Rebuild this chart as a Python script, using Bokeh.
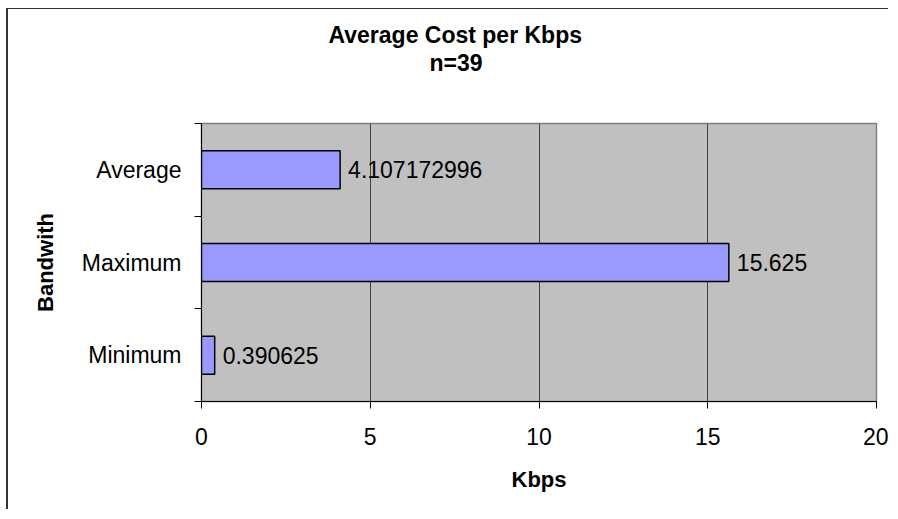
from bokeh.plotting import figure
from bokeh.models import FixedTicker, Title, ColumnDataSource, LabelSet
from bokeh.core.properties import value
from bokeh.embed import file_html
from bokeh.resources import INLINE

categories = ["Minimum", "Maximum", "Average"]
costs = [0.390625, 15.625, 4.107172996]
value_labels = ["0.390625", "15.625", "4.107172996"]
x_ticks = [0, 5, 10, 15, 20]
title_text = "Average Cost per Kbps"
subtitle_text = "n=39"
x_label = "Kbps"
y_label = "Bandwith"

FONT = "Liberation Sans"
pos = [i + 0.5 for i in range(len(categories))]
bounds = [i for i in range(len(categories) + 1)]

src = ColumnDataSource(dict(y=pos, cost=costs, label=value_labels, cat=categories))

p = figure(width=882, height=501, x_range=(0, 20), y_range=(0, len(categories)),
           output_backend="svg", toolbar_location=None,
           min_border_left=193, min_border_right=14, min_border_top=114, min_border_bottom=109)
p.styles = {"margin-left": "6px", "margin-top": "8px",
            "border-left": "2px solid #333333", "border-top": "1px solid #333333"}
p.background_fill_color = "#C0C0C0"
p.border_fill_color = "white"
p.outline_line_color = "#808080"
p.outline_line_width = 1.5

p.hbar(y="y", right="cost", left=0, height=0.41, source=src,
       fill_color="#9999FF", line_color="black", line_width=1.5)

labels = LabelSet(x="cost", y="y", text="label", source=src, x_offset=8,
                  text_baseline="middle", text_font=value(FONT),
                  text_font_size="23px", text_color="black")
p.add_layout(labels)

# x axis
xa = p.xaxis[0]
xa.ticker = FixedTicker(ticks=x_ticks)
xa.major_tick_out = 7
xa.major_tick_in = 0
xa.minor_tick_out = 0
xa.minor_tick_in = 0
xa.axis_line_color = "black"
xa.major_tick_line_color = "black"
xa.major_label_text_font = FONT
xa.major_label_text_font_size = "23px"
xa.major_label_text_color = "black"
xa.major_label_standoff = 19
xa.axis_label = x_label
xa.axis_label_text_font = FONT
xa.axis_label_text_font_size = "22px"
xa.axis_label_text_font_style = "bold"
xa.axis_label_text_color = "black"
xa.axis_label_standoff = 19

# y axis
ya = p.yaxis[0]
ya.ticker = FixedTicker(ticks=pos, minor_ticks=bounds)
ya.major_label_overrides = {pos[i]: categories[i] for i in range(len(categories))}
ya.major_tick_out = 0
ya.major_tick_in = 0
ya.minor_tick_out = 7
ya.minor_tick_in = 0
ya.minor_tick_line_color = "black"
ya.axis_line_color = "black"
ya.major_label_text_font = FONT
ya.major_label_text_font_size = "23px"
ya.major_label_text_color = "black"
ya.major_label_standoff = 13
ya.axis_label = y_label
ya.axis_label_text_font = FONT
ya.axis_label_text_font_size = "22px"
ya.axis_label_text_font_style = "bold"
ya.axis_label_text_color = "black"
ya.axis_label_standoff = 21

p.xgrid.grid_line_color = "#404040"
p.xgrid.grid_line_width = 1
p.ygrid.grid_line_color = None

# spacer between plot area and the two title lines
spacer = Title(text=" ", align="left", text_font=FONT, text_font_size="23px", standoff=19)
t_sub = Title(text=subtitle_text, align="left", offset=228,
              text_font=FONT, text_font_size="23px", text_font_style="bold",
              text_color="black", standoff=1)
t_main = Title(text=title_text, align="left", offset=127,
               text_font=FONT, text_font_size="23px", text_font_style="bold",
               text_color="black", standoff=0)
p.add_layout(spacer, "above")
p.add_layout(t_sub, "above")
p.add_layout(t_main, "above")

open("out.html", "w").write(file_html(p, INLINE))
